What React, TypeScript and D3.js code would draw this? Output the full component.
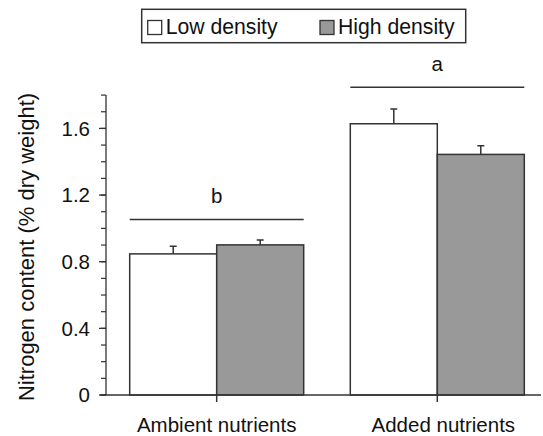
import React, {useEffect, useRef} from 'react';
import * as d3 from 'd3';

const groups = ['Ambient nutrients', 'Added nutrients'];
const series = ['Low density', 'High density'];
const lowValues = [0.847, 1.628];
const lowErrors = [0.046, 0.089];
const highValues = [0.901, 1.444];
const highErrors = [0.029, 0.052];
const groupLetters = ['b', 'a'];
const letterLevels = [1.054, 1.847];
const yTicks = [0, 0.4, 0.8, 1.2, 1.6];

export default function App() {
  const svgRef = useRef(null);

  useEffect(() => {
    const svg = d3.select(svgRef.current);
    svg.selectAll('*').remove();

    const width = 543;
    const height = 436;
    const font = '"Liberation Sans", Arial, Helvetica, sans-serif';
    const stroke = '#333';
    const ink = '#111';
    const colors = ['#ffffff', '#999999'];

    svg.attr('width', width).attr('height', height)
      .attr('font-family', font);

    const y = d3.scaleLinear().domain([0, 1.8]).range([395, 95.1]);
    const x0 = d3.scalePoint().domain(groups).range([216.7, 437.3]);
    const x1 = d3.scaleBand().domain(series).range([-87, 87]);

    const rows = groups.map((g, i) => ({
      group: g,
      bars: [
        {key: series[0], value: lowValues[i], err: lowErrors[i]},
        {key: series[1], value: highValues[i], err: highErrors[i]},
      ],
    }));

    // y axis
    const axisX = 106;
    svg.append('line')
      .attr('x1', axisX).attr('x2', axisX)
      .attr('y1', y(1.8)).attr('y2', y(0))
      .attr('stroke', stroke).attr('stroke-width', 1.3);
    const minor = d3.range(0, 19).map(d => d / 10);
    svg.selectAll('.minor').data(minor).join('line')
      .attr('x1', axisX - 5).attr('x2', axisX)
      .attr('y1', d => y(d)).attr('y2', d => y(d))
      .attr('stroke', stroke).attr('stroke-width', 1.2);
    svg.selectAll('.major').data(yTicks).join('line')
      .attr('x1', axisX - 7).attr('x2', axisX)
      .attr('y1', d => y(d)).attr('y2', d => y(d))
      .attr('stroke', stroke).attr('stroke-width', 1.3);
    svg.selectAll('.ylab').data(yTicks).join('text')
      .attr('x', 90).attr('y', d => y(d))
      .attr('dy', '0.35em')
      .attr('text-anchor', 'end')
      .attr('font-size', 20.5)
      .attr('fill', ink)
      .text(d => d === 0 ? '0' : d3.format('.1f')(d));

    svg.append('text')
      .attr('transform', 'translate(34,247) rotate(-90)')
      .attr('text-anchor', 'middle')
      .attr('font-size', 22)
      .attr('fill', ink)
      .text('Nitrogen content (% dry weight)');

    // bars
    const g = svg.selectAll('.grp').data(rows).join('g')
      .attr('transform', d => `translate(${x0(d.group)},0)`);

    g.selectAll('rect').data(d => d.bars).join('rect')
      .attr('x', d => x1(d.key))
      .attr('y', d => y(d.value))
      .attr('width', x1.bandwidth())
      .attr('height', d => y(0) - y(d.value))
      .attr('fill', (d, i) => colors[i])
      .attr('stroke', stroke).attr('stroke-width', 1.5);

    g.selectAll('.err').data(d => d.bars).join('path')
      .attr('d', d => {
        const cx = x1(d.key) + x1.bandwidth() / 2;
        const top = y(d.value + d.err);
        return `M${cx},${y(d.value)}V${top}M${cx - 3.5},${top}H${cx + 3.5}`;
      })
      .attr('fill', 'none')
      .attr('stroke', stroke).attr('stroke-width', 1.5);

    // significance lines
    g.append('line')
      .attr('x1', -87).attr('x2', 87)
      .attr('y1', (d, i) => y(letterLevels[i])).attr('y2', (d, i) => y(letterLevels[i]))
      .attr('stroke', stroke).attr('stroke-width', 1.5);
    g.append('text')
      .attr('x', 0)
      .attr('y', (d, i) => y(letterLevels[i]) - 16.5)
      .attr('text-anchor', 'middle')
      .attr('font-size', 20.5)
      .attr('fill', ink)
      .text((d, i) => groupLetters[i]);

    // x axis
    svg.append('line')
      .attr('x1', 100).attr('x2', 541)
      .attr('y1', y(0)).attr('y2', y(0))
      .attr('stroke', stroke).attr('stroke-width', 1.5);
    g.append('line')
      .attr('x1', 0).attr('x2', 0)
      .attr('y1', y(0)).attr('y2', y(0) + 7)
      .attr('stroke', stroke).attr('stroke-width', 1.5);
    g.append('text')
      .attr('x', (d, i) => i === 1 ? 6 : 0)
      .attr('y', 431.5)
      .attr('text-anchor', 'middle')
      .attr('font-size', 20.5)
      .attr('fill', ink)
      .text(d => d.group);

    // legend
    svg.append('rect')
      .attr('x', 141.7).attr('y', 9.3)
      .attr('width', 324).attr('height', 33.4)
      .attr('fill', 'white')
      .attr('stroke', stroke).attr('stroke-width', 1.5);
    const legendX = [147.7, 320];
    const lg = svg.selectAll('.leg').data(series).join('g')
      .attr('transform', (d, i) => `translate(${legendX[i]},20.5)`);
    lg.append('rect')
      .attr('width', 14).attr('height', 14)
      .attr('fill', (d, i) => colors[i])
      .attr('stroke', stroke).attr('stroke-width', 1.3);
    lg.append('text')
      .attr('x', 18).attr('y', 13.5)
      .attr('font-size', 21.2)
      .attr('fill', ink)
      .text(d => d);
  }, []);

  return (
    <div style={{position: 'absolute', left: 0, top: 0, background: 'white'}}>
      <svg ref={svgRef} width={543} height={436}></svg>
    </div>
  );
}
